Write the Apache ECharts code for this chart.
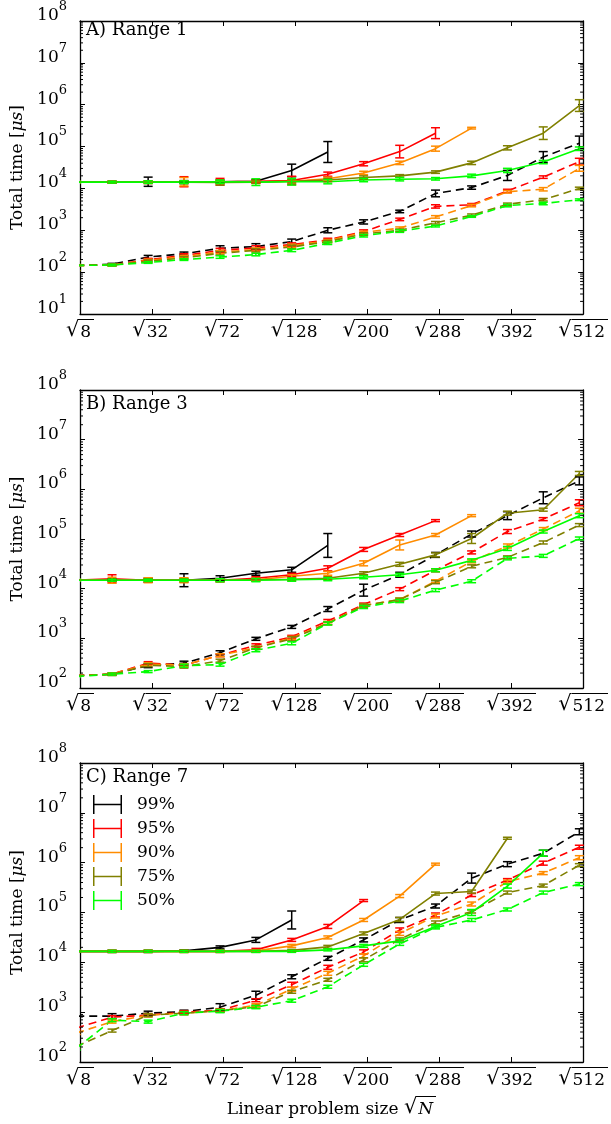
<!DOCTYPE html>
<html><head><meta charset="utf-8">
<script src="https://cdn.jsdelivr.net/npm/echarts@6/dist/echarts.min.js"></script>
<style>html,body{margin:0;padding:0;background:#fff}#c{width:611px;height:1124px}</style>
</head><body><div id="c"></div>
<script>
// ---- data (y values are log10 of total time in microseconds) ----
const sqrtNPos = [2.68, 4.09, 5.51, 6.92, 8.34, 9.75, 11.16, 12.58, 13.99, 15.41, 16.82, 18.24, 19.65, 21.06, 22.48];
const xTickN = [8, 32, 72, 128, 200, 288, 392, 512];
const levels = ['99%', '95%', '90%', '75%', '50%'];
const colors = ['#000000', '#ff0000', '#ff8c00', '#808000', '#00ff00'];
const panelTitles = ['A) Range 1', 'B) Range 3', 'C) Range 7'];
const yMinExp = [1, 2, 2];
const yMaxExp = [8, 8, 8];
const minorMultipliers = [2, 3, 4, 5, 6, 7, 8, 9];

// Panel A, solid
const A99s = [4.15,4.15,4.16,4.15,4.16,4.17,4.43,4.87];
const A99sErr = [0.02,0.02,0.11,0.03,0.04,0.04,0.15,0.25];
const A95s = [4.15,4.15,4.15,4.16,4.16,4.17,4.19,4.34,4.59,4.88,5.32];
const A95sErr = [0.02,0.02,0.03,0.12,0.08,0.03,0.10,0.05,0.05,0.15,0.13];
const A90s = [4.15,4.15,4.15,4.16,4.15,4.15,4.17,4.23,4.37,4.61,4.95,5.44];
const A90sErr = [0.02,0.02,0.03,0.10,0.04,0.03,0.04,0.04,0.04,0.04,0.06,0.02];
const A75s = [4.15,4.15,4.15,4.15,4.14,4.15,4.17,4.20,4.26,4.30,4.39,4.61,4.97,5.32,5.98];
const A75sErr = [0.02,0.02,0.03,0.04,0.06,0.03,0.04,0.04,0.04,0.03,0.03,0.04,0.05,0.15,0.14];
const A50s = [4.15,4.15,4.15,4.15,4.16,4.15,4.16,4.16,4.20,4.22,4.23,4.30,4.43,4.63,4.95];
const A50sErr = [0.02,0.02,0.03,0.03,0.04,0.08,0.08,0.05,0.04,0.04,0.03,0.04,0.05,0.04,0.04];
// Panel A, dashed
const A99d = [2.16,2.19,2.36,2.44,2.57,2.61,2.73,3.00,3.20,3.45,3.88,4.02,4.31,4.75,5.08];
const A99dErr = [0.02,0.02,0.04,0.04,0.06,0.07,0.06,0.06,0.05,0.03,0.08,0.04,0.12,0.13,0.17];
const A95d = [2.16,2.17,2.30,2.40,2.52,2.58,2.66,2.77,2.97,3.26,3.57,3.61,3.94,4.27,4.64];
const A95dErr = [0.02,0.02,0.03,0.04,0.05,0.05,0.04,0.04,0.04,0.03,0.04,0.03,0.04,0.03,0.08];
const A90d = [2.16,2.17,2.28,2.37,2.48,2.54,2.63,2.75,2.95,3.05,3.32,3.59,3.92,3.98,4.48];
const A90dErr = [0.02,0.02,0.03,0.03,0.04,0.04,0.04,0.03,0.03,0.03,0.03,0.03,0.03,0.04,0.07];
const A75d = [2.16,2.17,2.26,2.34,2.45,2.52,2.60,2.73,2.91,3.00,3.18,3.36,3.62,3.73,4.00];
const A75dErr = [0.12,0.02,0.03,0.03,0.04,0.04,0.04,0.03,0.03,0.03,0.03,0.03,0.03,0.03,0.03];
const A50d = [2.16,2.17,2.23,2.30,2.36,2.42,2.52,2.69,2.87,2.98,3.10,3.33,3.59,3.64,3.73];
const A50dErr = [0.02,0.02,0.02,0.02,0.03,0.03,0.03,0.03,0.03,0.03,0.02,0.02,0.03,0.03,0.02];

// Panel B, solid
const B99s = [4.17,4.17,4.17,4.17,4.21,4.31,4.38,4.87];
const B99sErr = [0.02,0.02,0.04,0.13,0.05,0.04,0.05,0.24];
const B95s = [4.17,4.20,4.17,4.17,4.17,4.21,4.28,4.41,4.79,5.08,5.37];
const B95sErr = [0.02,0.08,0.04,0.04,0.03,0.03,0.03,0.05,0.04,0.03,0.02];
const B90s = [4.17,4.17,4.17,4.17,4.17,4.18,4.25,4.31,4.51,4.88,5.08,5.47];
const B90sErr = [0.02,0.06,0.05,0.05,0.03,0.03,0.03,0.04,0.05,0.10,0.03,0.02];
const B75s = [4.17,4.17,4.17,4.17,4.17,4.18,4.19,4.21,4.31,4.49,4.68,5.01,5.52,5.59,6.32];
const B75sErr = [0.02,0.02,0.03,0.03,0.03,0.03,0.03,0.03,0.03,0.04,0.04,0.10,0.04,0.03,0.04];
const B50s = [4.17,4.17,4.17,4.17,4.17,4.17,4.18,4.19,4.23,4.28,4.37,4.57,4.81,5.15,5.47];
const B50sErr = [0.02,0.02,0.02,0.02,0.03,0.03,0.03,0.03,0.03,0.03,0.03,0.03,0.04,0.03,0.04];
// Panel B, dashed
const B99d = [2.25,2.28,2.45,2.50,2.71,2.99,3.23,3.59,3.97,4.28,4.68,5.10,5.47,5.83,6.17];
const B99dErr = [0.02,0.02,0.04,0.04,0.04,0.03,0.03,0.05,0.12,0.05,0.05,0.06,0.08,0.12,0.08];
const B95d = [2.25,2.28,2.50,2.46,2.66,2.86,3.03,3.35,3.68,3.99,4.37,4.73,5.15,5.40,5.73];
const B95dErr = [0.02,0.02,0.03,0.03,0.03,0.03,0.03,0.03,0.03,0.03,0.03,0.03,0.04,0.03,0.06];
const B90d = [2.25,2.28,2.48,2.46,2.66,2.81,3.01,3.31,3.66,3.78,4.15,4.55,4.86,5.20,5.57];
const B90dErr = [0.02,0.02,0.03,0.03,0.03,0.03,0.03,0.03,0.03,0.03,0.03,0.03,0.04,0.03,0.05];
const B75d = [2.25,2.27,2.46,2.43,2.55,2.81,2.99,3.30,3.66,3.78,4.13,4.45,4.63,4.93,5.28];
const B75dErr = [0.02,0.02,0.03,0.03,0.03,0.03,0.04,0.03,0.03,0.03,0.03,0.03,0.03,0.03,0.03];
const B50d = [2.23,2.28,2.33,2.45,2.47,2.76,2.90,3.30,3.63,3.75,3.97,4.15,4.61,4.66,5.01];
const B50dErr = [0.02,0.02,0.02,0.03,0.03,0.03,0.03,0.03,0.03,0.03,0.03,0.03,0.03,0.03,0.03];

// Panel C, solid
const C99s = [4.22,4.22,4.22,4.23,4.30,4.45,4.85];
const C99sErr = [0.02,0.02,0.02,0.02,0.03,0.05,0.18];
const C95s = [4.22,4.22,4.22,4.22,4.22,4.25,4.45,4.72,5.24];
const C95sErr = [0.02,0.02,0.02,0.02,0.02,0.03,0.03,0.04,0.02];
const C90s = [4.22,4.22,4.22,4.22,4.22,4.23,4.33,4.50,4.85,5.33,5.97];
const C90sErr = [0.02,0.02,0.02,0.02,0.02,0.02,0.03,0.03,0.03,0.03,0.02];
const C75s = [4.22,4.22,4.22,4.22,4.22,4.22,4.24,4.31,4.58,4.86,5.38,5.42,6.49];
const C75sErr = [0.02,0.02,0.02,0.02,0.02,0.02,0.02,0.03,0.03,0.04,0.03,0.03,0.02];
const C50s = [4.22,4.22,4.22,4.22,4.22,4.22,4.22,4.25,4.33,4.43,4.72,5.00,5.53,6.19];
const C50sErr = [0.02,0.02,0.02,0.02,0.02,0.02,0.02,0.02,0.03,0.03,0.03,0.06,0.04,0.06];
// Panel C, dashed
const C99d = [2.92,2.92,2.98,3.01,3.10,3.34,3.71,4.08,4.45,4.85,5.13,5.69,5.97,6.19,6.62];
const C99dErr = [0.03,0.05,0.04,0.03,0.07,0.08,0.04,0.04,0.04,0.05,0.04,0.10,0.05,0.06,0.06];
const C95d = [2.68,2.90,2.94,3.00,3.04,3.24,3.55,3.90,4.21,4.65,4.95,5.35,5.65,5.99,6.31];
const C95dErr = [0.03,0.03,0.03,0.03,0.03,0.03,0.05,0.04,0.04,0.04,0.04,0.03,0.03,0.04,0.04];
const C90d = [2.58,2.81,2.94,2.98,3.03,3.14,3.46,3.78,4.13,4.58,4.93,5.17,5.62,5.79,6.10];
const C90dErr = [0.03,0.03,0.03,0.03,0.03,0.03,0.04,0.04,0.04,0.04,0.04,0.04,0.03,0.03,0.04];
const C75d = [2.31,2.63,2.94,2.98,3.03,3.11,3.41,3.65,4.05,4.46,4.80,5.02,5.40,5.54,5.95];
const C75dErr = [0.03,0.03,0.03,0.03,0.03,0.03,0.03,0.03,0.04,0.03,0.03,0.03,0.03,0.03,0.03];
const C50d = [2.27,2.84,2.81,2.98,3.02,3.10,3.23,3.51,3.95,4.37,4.70,4.85,5.06,5.40,5.57];
const C50dErr = [0.03,0.03,0.03,0.03,0.03,0.03,0.03,0.03,0.03,0.03,0.03,0.03,0.03,0.03,0.03];

const panels = [
  {solid: [A99s,A95s,A90s,A75s,A50s], solidErr: [A99sErr,A95sErr,A90sErr,A75sErr,A50sErr],
   dashed: [A99d,A95d,A90d,A75d,A50d], dashedErr: [A99dErr,A95dErr,A90dErr,A75dErr,A50dErr]},
  {solid: [B99s,B95s,B90s,B75s,B50s], solidErr: [B99sErr,B95sErr,B90sErr,B75sErr,B50sErr],
   dashed: [B99d,B95d,B90d,B75d,B50d], dashedErr: [B99dErr,B95dErr,B90dErr,B75dErr,B50dErr]},
  {solid: [C99s,C95s,C90s,C75s,C50s], solidErr: [C99sErr,C95sErr,C90sErr,C75sErr,C50sErr],
   dashed: [C99d,C95d,C90d,C75d,C50d], dashedErr: [C99dErr,C95dErr,C90dErr,C75dErr,C50dErr]}
];

// ---- chart ----
const FONT = 'DejaVu Serif';
const xk = sqrtNPos.map(v => v / Math.SQRT2); // axis in units of sqrt(N/2)
const gridTops = [16, 390, 763];
const gridHeights = [298, 298, 299];

// overline bar used as the background of the radicand text
const olCanvas = document.createElement('canvas');
olCanvas.width = 8; olCanvas.height = 60;
(function () { const g = olCanvas.getContext('2d'); g.fillStyle = '#000'; g.fillRect(0, 0, 8, 4); })();
const sqrtRich = {
  r: {fontFamily: FONT, fontSize: 21, color: '#000', lineHeight: 22, padding: [2, 0, 0, 0]},
  d: {fontFamily: FONT, fontSize: 17, color: '#000', lineHeight: 18, padding: [6, 3, 0, 1], backgroundColor: {image: olCanvas}},
  n: {fontFamily: FONT, fontSize: 17, color: '#000', fontStyle: 'italic', lineHeight: 18, padding: [6, 3, 0, 1], backgroundColor: {image: olCanvas}},
  t: {fontFamily: FONT, fontSize: 17, color: '#000', lineHeight: 18, padding: [6, 0, 0, 0]}
};

const grids = [], xAxes = [], yAxes = [], series = [], titles = [];

function errRender(color) {
  return function (params, api) {
    const x = api.value(0), lo = api.value(1), hi = api.value(2);
    const a = api.coord([x, lo]), b = api.coord([x, hi]);
    const w = 4.5;
    const st = {stroke: color, lineWidth: 1.5};
    return {type: 'group', children: [
      {type: 'line', shape: {x1: a[0], y1: a[1], x2: b[0], y2: b[1]}, style: st},
      {type: 'line', shape: {x1: a[0] - w, y1: a[1], x2: a[0] + w, y2: a[1]}, style: st},
      {type: 'line', shape: {x1: b[0] - w, y1: b[1], x2: b[0] + w, y2: b[1]}, style: st}
    ]};
  };
}

panels.forEach((P, i) => {
  grids.push({left: 80, right: 25, top: gridTops[i], height: gridHeights[i]});
  const axisLine = {show: true, onZero: false, lineStyle: {color: '#000', width: 1.3}};
  const tick = {show: true, inside: true, length: 5, lineStyle: {color: '#000', width: 1}};
  xAxes.push({
    gridIndex: i, type: 'value', min: 2, max: 16, interval: 2, position: 'bottom',
    axisLine, axisTick: tick, splitLine: {show: false},
    axisLabel: {
      formatter: v => '{r|√}{d|' + Math.round(2 * v * v) + '}',
      rich: sqrtRich, margin: 5
    },
    name: i === 2 ? '{t|Linear problem size }{r|√}{n|N}' : '',
    nameLocation: 'middle', nameGap: 34,
    nameTextStyle: {rich: sqrtRich}
  });
  xAxes.push({
    gridIndex: i, type: 'value', min: 2, max: 16, interval: 2, position: 'top',
    axisLine, axisTick: tick, splitLine: {show: false}, axisLabel: {show: false}
  });
  yAxes.push({
    gridIndex: i, type: 'value', min: yMinExp[i], max: yMaxExp[i], interval: 1, position: 'left',
    axisLine, axisTick: tick, splitLine: {show: false},
    axisLabel: {
      formatter: v => '{b|10}{s|' + v + '}', margin: 13, padding: [0, 0, 18, 0],
      rich: {
        b: {fontFamily: FONT, fontSize: 17, color: '#000', verticalAlign: 'bottom', lineHeight: 24},
        s: {fontFamily: FONT, fontSize: 13, color: '#000', verticalAlign: 'top', lineHeight: 14}
      }
    },
    name: 'Total time [{i|μs}]', nameLocation: 'middle', nameGap: 50, nameRotate: 90,
    nameTextStyle: {fontFamily: FONT, fontSize: 17, color: '#000',
      rich: {i: {fontFamily: FONT, fontSize: 17, fontStyle: 'italic', color: '#000'}}}
  });
  yAxes.push({
    gridIndex: i, type: 'value', min: yMinExp[i], max: yMaxExp[i], interval: 1, position: 'right',
    axisLine, axisTick: tick, splitLine: {show: false}, axisLabel: {show: false}
  });
  titles.push({text: panelTitles[i], left: 86, top: gridTops[i] + 5, padding: 0,
    textStyle: {fontFamily: FONT, fontSize: 18, fontWeight: 'normal', color: '#000'}});

  // minor log ticks on left and right spines
  const minor = [];
  for (let n = yMinExp[i]; n < yMaxExp[i]; n++) minorMultipliers.forEach(m => minor.push([2, n + Math.log10(m)]));
  series.push({
    type: 'custom', xAxisIndex: 2 * i, yAxisIndex: 2 * i, data: minor, silent: true, z: 10,
    encode: {x: 0, y: 1},
    renderItem: (params, api) => {
      const v = api.value(1);
      const l = api.coord([2, v]), r = api.coord([16, v]);
      const st = {stroke: '#000', lineWidth: 1};
      return {type: 'group', children: [
        {type: 'line', shape: {x1: l[0], y1: l[1], x2: l[0] + 3, y2: l[1]}, style: st},
        {type: 'line', shape: {x1: r[0] - 3, y1: r[1], x2: r[0], y2: r[1]}, style: st}
      ]};
    }
  });

  ['dashed', 'solid'].forEach(kind => {
    P[kind].forEach((vals, li) => {
      const errs = P[kind + 'Err'][li];
      const color = colors[li];
      series.push({
        type: 'line', name: levels[li] + ' ' + kind, xAxisIndex: 2 * i, yAxisIndex: 2 * i,
        data: vals.map((v, j) => [xk[j], v]), symbol: 'none', showSymbol: false, clip: true,
        lineStyle: {color, width: 1.6, type: kind === 'dashed' ? [8, 5] : 'solid'},
        itemStyle: {color}, z: 3
      });
      series.push({
        type: 'custom', name: levels[li], xAxisIndex: 2 * i, yAxisIndex: 2 * i, clip: true,
        data: vals.map((v, j) => [xk[j], v - errs[j], v + errs[j]]),
        encode: {x: 0, y: [1, 2]}, itemStyle: {color}, z: 4,
        renderItem: errRender(color)
      });
    });
  });
});

const hIcon = 'path://M0,0h1.5v19h-1.5z M0,8.75h29v1.5h-29z M27.5,0h1.5v19h-1.5z';
const chart = echarts.init(document.getElementById('c'), null, {renderer: 'canvas'});
chart.setOption({
  animation: false,
  backgroundColor: '#fff',
  title: titles,
  grid: grids,
  xAxis: xAxes,
  yAxis: yAxes,
  legend: {
    orient: 'vertical', left: 93, top: 795, padding: 0, itemWidth: 29, itemHeight: 19, itemGap: 5,
    selectedMode: false,
    textStyle: {fontFamily: FONT, fontSize: 17, color: '#000', padding: [0, 0, 0, 10]},
    data: levels.map((n, i) => ({name: n, icon: hIcon, itemStyle: {color: colors[i]}}))
  },
  series
});
</script></body></html>
